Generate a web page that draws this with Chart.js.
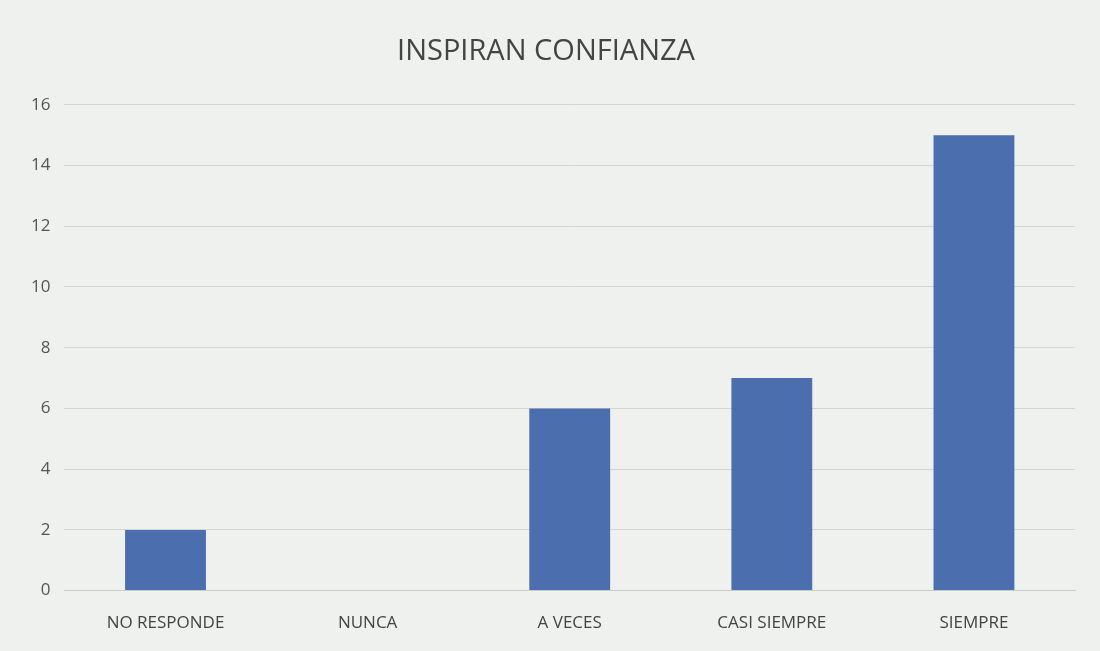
<!DOCTYPE html>
<html>
<head>
<meta charset="utf-8">
<script src="https://cdn.jsdelivr.net/npm/chart.js@4"></script>
<style>
    html, body { margin: 0; padding: 0; background: #eff1ee; }
    #wrap { width: 1100px; height: 651px; }
</style>
</head>
<body>
<div id="wrap"><canvas id="chart"></canvas></div>
<script>
// Inspiran confianza - bar chart

const categories = ['NO RESPONDE', 'NUNCA', 'A VECES', 'CASI SIEMPRE', 'SIEMPRE'];
const counts = [2, 0, 6, 7, 15];
const yTicks = [0, 2, 4, 6, 8, 10, 12, 14, 16];

const FONT = '"Open Sans", "Liberation Sans", sans-serif';

new Chart(document.getElementById('chart'), {
    type: 'bar',
    data: {
        labels: categories,
        datasets: [{
            data: counts,
            backgroundColor: '#4a6eae',
            barPercentage: 0.4,
            categoryPercentage: 1
        }]
    },
    options: {
        responsive: true,
        maintainAspectRatio: false,
        animation: false,
        layout: { padding: { left: 17, right: 25, top: 34, bottom: 4 } },
        plugins: {
            legend: { display: false },
            tooltip: { enabled: false },
            title: {
                display: true,
                text: 'INSPIRAN CONFIANZA',
                color: '#444',
                font: { family: FONT, size: 29, weight: 'normal' },
                padding: { top: 0, bottom: 36 }
            }
        },
        scales: {
            x: {
                grid: { display: false },
                border: { display: true, color: '#c9cbc8' },
                ticks: { color: '#444', font: { family: FONT, size: 17 }, padding: 14 }
            },
            y: {
                min: 0,
                max: 16,
                afterBuildTicks: axis => { axis.ticks = yTicks.map(v => ({ value: v })); },
                grid: { color: '#d3d5d2', drawTicks: false },
                border: { display: false },
                ticks: { color: '#555', font: { family: FONT, size: 17 }, padding: 14 }
            }
        }
    }
});
</script>
</body>
</html>
